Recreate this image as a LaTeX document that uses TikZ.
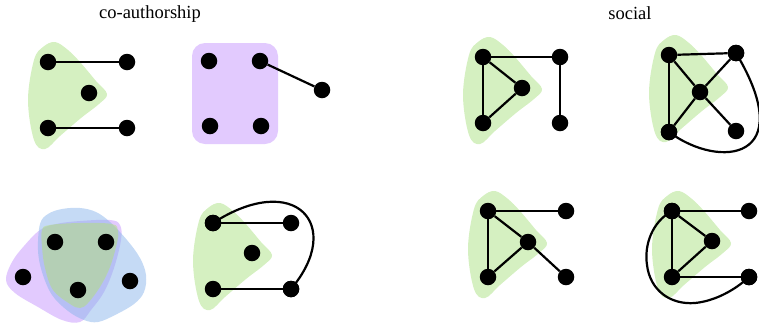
\documentclass[tikz,border=0pt]{standalone}
\usepackage{fontspec}
\setmainfont{Liberation Serif}
\definecolor{gr}{RGB}{213,240,193}
\definecolor{pu}{RGB}{226,202,254}
\definecolor{bl}{RGB}{197,218,245}
\definecolor{grs}{RGB}{180,224,120}
\definecolor{pus}{RGB}{197,149,253}
\definecolor{bls}{RGB}{139,181,235}
\begin{document}
\begin{tikzpicture}[x=1pt,y=-1pt,
  dot/.style={circle,fill=black,inner sep=0pt,minimum size=16.5pt},
  lnk/.style={line width=2.2pt},
  ttl/.style={font=\fontsize{18.5}{22}\selectfont},
  gblob/.pic={\fill[gr] plot[smooth cycle,tension=0.6] coordinates{(7,-20) (20,-12) (32,0) (48,19) (59,32) (51,42) (33,56) (12,74) (-3,87) (-14,78) (-20,38) (-14,-2) (-5,-15)};}]
\useasboundingbox (0,0) rectangle (759,322);
\node[ttl] (t1) at (150,14) {co-authorship};
\node[ttl] (t2) at (630,13) {social};

% ---------- co-authorship, top left
\pic at (48,62) {gblob};
\node[dot] (a1) at (48,62) {};
\node[dot] (a2) at (127,62) {};
\node[dot] (a3) at (89,93) {};
\node[dot] (a4) at (48,128) {};
\node[dot] (a5) at (127,128) {};
\draw[lnk] (a1) -- (a2);
\draw[lnk] (a4) -- (a5);

% ---------- co-authorship, top right
\fill[pu, rounded corners=13pt] (192,43) rectangle (278,144);
\node[dot] (b1) at (209,61) {};
\node[dot] (b2) at (260,61) {};
\node[dot] (b3) at (322,90) {};
\node[dot] (b4) at (210,126) {};
\node[dot] (b5) at (261,126) {};
\draw[lnk] (b2) -- (b3);

% ---------- co-authorship, bottom left
\begin{scope}[fill opacity=0.5]
\fill[pus] plot[smooth cycle,tension=0.6] coordinates{(6,280) (12,262) (24,246) (40,230) (56,224) (80,221) (110,220) (120,225) (121,240) (114,268) (104,292) (91,310) (80,322) (62,320) (38,307) (15,293)};
\fill[bls] plot[smooth cycle,tension=0.6] coordinates{(40,224) (48,214) (62,209) (80,208) (96,212) (110,222) (127,240) (140,258) (146,275) (144,292) (134,304) (115,315) (98,322) (84,320) (68,311) (52,295) (42,272) (38,250)};
\fill[grs] plot[smooth cycle,tension=0.6] coordinates{(42,230) (50,225) (80,223) (112,224) (118,231) (117,243) (110,267) (100,287) (88,303) (80,308) (70,304) (53,290) (45,268) (42,247)};
\end{scope}
\node[dot] (c1) at (55,242) {};
\node[dot] (c2) at (106,242) {};
\node[dot] (c3) at (23,277) {};
\node[dot] (c4) at (78,290) {};
\node[dot] (c5) at (130,281) {};

% ---------- co-authorship, bottom right
\pic at (213,223) {gblob};
\node[dot] (d1) at (213,223) {};
\node[dot] (d2) at (291,223) {};
\node[dot] (d3) at (252,253) {};
\node[dot] (d4) at (213,289) {};
\node[dot] (d5) at (291,289) {};
\draw[lnk] (d1) -- (d2);
\draw[lnk] (d4) -- (d5);
\draw[lnk] (d1.center) .. controls (295,170) and (345,225) .. (d5.center);

% ---------- social, top left
\pic at (483,57) {gblob};
\node[dot] (e1) at (483,57) {};
\node[dot] (e2) at (560,57) {};
\node[dot] (e3) at (522,88) {};
\node[dot] (e4) at (483,123) {};
\node[dot] (e5) at (560,123) {};
\draw[lnk] (e1) -- (e2);
\draw[lnk] (e1) -- (e3);
\draw[lnk] (e1) -- (e4);
\draw[lnk] (e3) -- (e4);
\draw[lnk] (e2) -- (e5);

% ---------- social, top right
\pic at (669,55) {gblob};
\node[dot] (f1) at (669,55) {};
\node[dot] (f2) at (736,53) {};
\node[dot] (f3) at (700,92) {};
\node[dot] (f4) at (669,132) {};
\node[dot] (f5) at (736,131) {};
\draw[lnk] (f1) -- (f2);
\draw[lnk] (f1) -- (f3);
\draw[lnk] (f1) -- (f4);
\draw[lnk] (f3) -- (f4);
\draw[lnk] (f3) -- (f2);
\draw[lnk] (f3) -- (f5);
\draw[lnk] (f4.center) .. controls (720,170) and (800,160) .. (f2.center);

% ---------- social, bottom left
\pic at (488,211) {gblob};
\node[dot] (g1) at (488,211) {};
\node[dot] (g2) at (566,211) {};
\node[dot] (g3) at (528,242) {};
\node[dot] (g4) at (488,277) {};
\node[dot] (g5) at (566,277) {};
\draw[lnk] (g1) -- (g2);
\draw[lnk] (g1) -- (g3);
\draw[lnk] (g1) -- (g4);
\draw[lnk] (g3) -- (g4);
\draw[lnk] (g3) -- (g5);

% ---------- social, bottom right
\pic at (672,211) {gblob};
\node[dot] (h1) at (672,211) {};
\node[dot] (h2) at (749,211) {};
\node[dot] (h3) at (712,241) {};
\node[dot] (h4) at (672,277) {};
\node[dot] (h5) at (749,277) {};
\draw[lnk] (h1) -- (h2);
\draw[lnk] (h1) -- (h3);
\draw[lnk] (h1) -- (h4);
\draw[lnk] (h3) -- (h4);
\draw[lnk] (h4) -- (h5);
\draw[lnk] (h1.center) .. controls (652,222) and (644,245) .. (647,265)
  .. controls (650,290) and (670,305) .. (695,303)
  .. controls (715,301) and (735,290) .. (h5.center);

% redraw dots over curves
\foreach \n in {d1,d5,f2,f4,h1,h5}{\fill (\n) circle (8.25pt);}
\end{tikzpicture}
\end{document}
